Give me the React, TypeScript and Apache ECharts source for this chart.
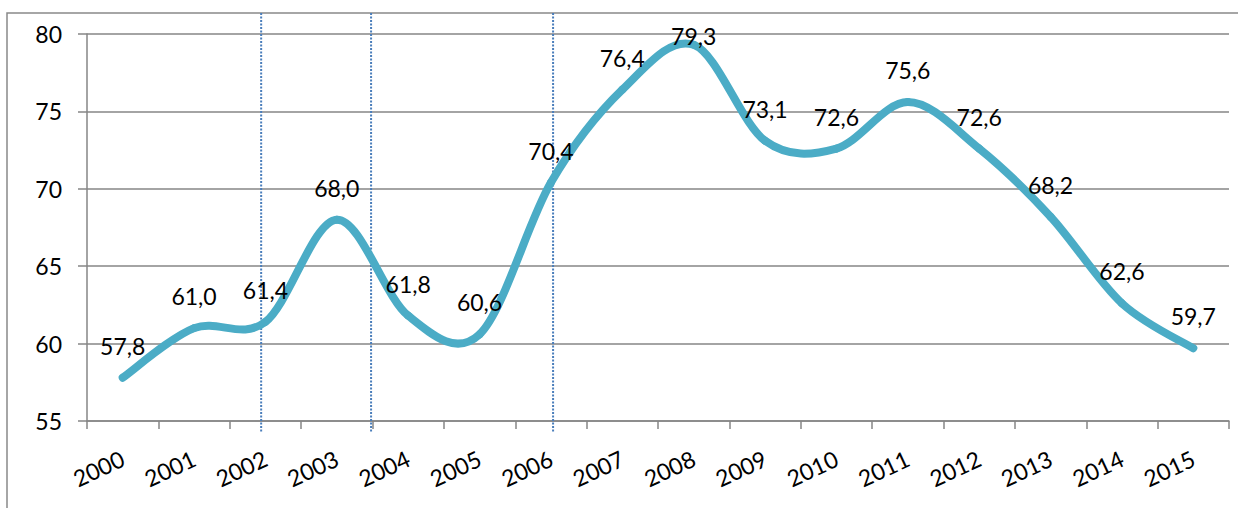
import React, { useEffect, useRef } from "react";
import * as echarts from "echarts";

const years = ["2000","2001","2002","2003","2004","2005","2006","2007","2008","2009","2010","2011","2012","2013","2014","2015"];
const values = [57.8, 61.0, 61.4, 68.0, 61.8, 60.6, 70.4, 76.4, 79.3, 73.1, 72.6, 75.6, 72.6, 68.2, 62.6, 59.7];
// divider positions, in category units measured from the start of the x axis
const dividers = [2.44, 3.98, 6.53];
const yTicks = { min: 55, max: 80, interval: 5 };

// label nudges (style only)
const labelNudge: Record<number, [number, number]> = { 8: [0, 23] };

const FONT = "Lato";
const FS = 23;
const LINE = "#4BACC6";

export default function App() {
  const ref = useRef<HTMLDivElement>(null);
  useEffect(() => {
    if (!ref.current) return;
    const chart = echarts.init(ref.current, null, { renderer: "svg" });
    const fmt = (v: number) => v.toFixed(1).replace(".", ",");
    const n = values.length;
    const clampI = (k: number) => Math.max(0, Math.min(n - 1, k));
    chart.setOption({
      animation: false,
      grid: { left: 87, right: 9, top: 34, bottom: 87, containLabel: false },
      xAxis: [
        {
          type: "category",
          data: years,
          boundaryGap: true,
          axisLine: { show: true, lineStyle: { color: "#868686", width: 1.5 } },
          axisTick: { show: true, length: 8, lineStyle: { color: "#868686", width: 1.5 } },
          axisLabel: { rotate: 25, margin: 36, fontSize: FS, fontFamily: FONT, color: "#000" },
          splitLine: { show: false },
        },
        { type: "value", min: 0, max: 16, show: false },
      ],
      yAxis: {
        type: "value",
        min: yTicks.min,
        max: yTicks.max,
        interval: yTicks.interval,
        axisLine: { show: true, lineStyle: { color: "#868686", width: 1.5 } },
        axisTick: { show: true, length: 9, lineStyle: { color: "#868686", width: 1.5 } },
        axisLabel: { margin: 25, fontSize: FS, fontFamily: FONT, color: "#000" },
        splitLine: { show: true, lineStyle: { color: "#868686", width: 1.5 } },
      },
      series: [
        {
          type: "custom",
          data: values.map((v, i) => [i, v]),
          encode: { x: 0, y: 1 },
          z: 3,
          silent: true,
          renderItem: (params: any, api: any) => {
            const i = params.dataIndex;
            if (i >= n - 1) return { type: "group", children: [] };
            const P = (k: number) => {
              const c = clampI(k);
              return api.coord([c, values[c]]) as number[];
            };
            const p0 = P(i - 1), p1 = P(i), p2 = P(i + 1), p3 = P(i + 2);
            const t = 1 / 6;
            return {
              type: "bezierCurve",
              shape: {
                x1: p1[0], y1: p1[1],
                cpx1: p1[0] + (p2[0] - p0[0]) * t,
                cpy1: p1[1] + (p2[1] - p0[1]) * t,
                cpx2: p2[0] - (p3[0] - p1[0]) * t,
                cpy2: p2[1] - (p3[1] - p1[1]) * t,
                x2: p2[0], y2: p2[1],
              },
              style: { stroke: LINE, lineWidth: 8, fill: "none", lineCap: "round" },
            };
          },
        },
        {
          type: "line",
          data: values.map((v, i) =>
            labelNudge[i] ? { value: v, label: { offset: labelNudge[i] } } : v
          ),
          symbol: "circle",
          symbolSize: 1,
          itemStyle: { color: LINE },
          lineStyle: { opacity: 0, width: 0 },
          label: {
            show: true,
            position: "top",
            distance: 20,
            fontSize: FS,
            fontFamily: FONT,
            color: "#000",
            formatter: (p: any) => fmt(Number(p.value)),
          },
          z: 4,
        },
      ],
    });
    const xs = dividers.map((d) => chart.convertToPixel({ xAxisIndex: 1 }, d) as number);
    chart.setOption({
      graphic: [
        {
          type: "rect",
          shape: { x: 7, y: 13, width: 1400, height: 700 },
          style: { fill: "none", stroke: "#898989", lineWidth: 1.5 },
          silent: true,
          z: -1,
        },
        ...xs.map((x) => ({
          type: "line",
          shape: { x1: x, y1: 13, x2: x, y2: 432 },
          style: { stroke: "#4A7EBB", lineWidth: 2, lineDash: [2, 1.5] },
          silent: true,
          z: 1,
        })),
      ],
    });
    return () => chart.dispose();
  }, []);
  return (
    <div
      ref={ref}
      style={{ position: "fixed", left: 0, top: 0, width: 1238, height: 508, background: "#fff" }}
    />
  );
}
